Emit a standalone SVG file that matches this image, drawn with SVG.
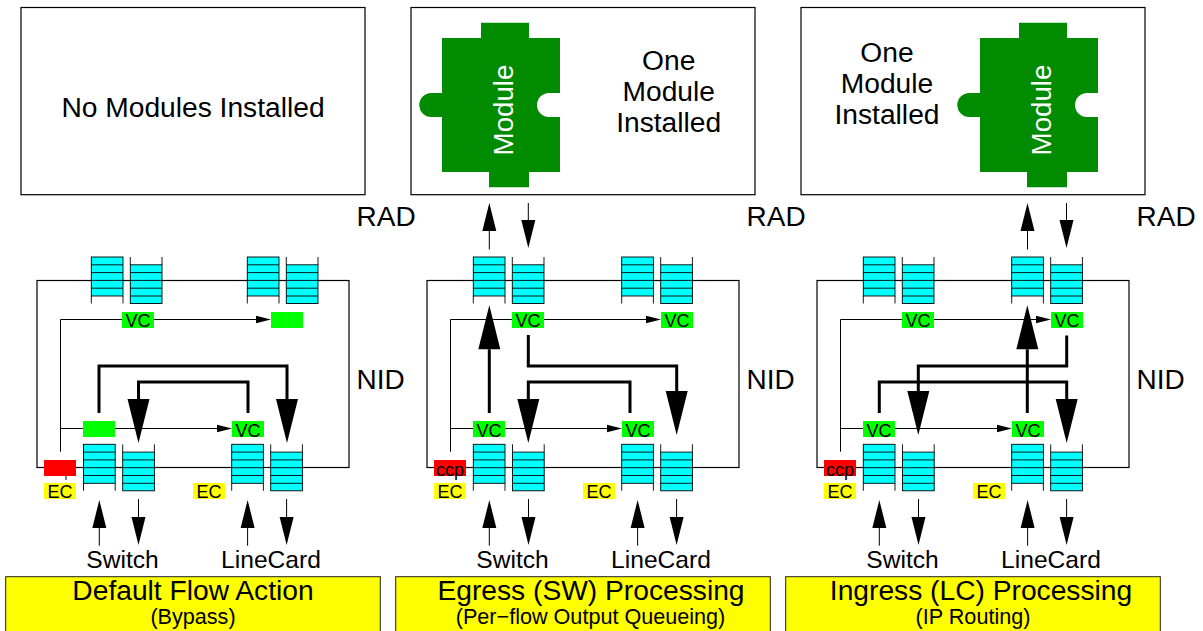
<svg xmlns="http://www.w3.org/2000/svg" width="1203" height="631" viewBox="0 0 1203 631">
<style>
text{font-family:"Liberation Sans",Arial,sans-serif;fill:#000}
.box{fill:#fff;stroke:#000;stroke-width:1.2}
.nid{fill:none;stroke:#000;stroke-width:1.2}
.cap{fill:#ff0;stroke:#222;stroke-width:1}
.t28{font-size:28px}
.t24{font-size:24.6px;text-anchor:middle}
.big{font-size:28.2px;text-anchor:middle}
.sub{font-size:21.6px;text-anchor:middle}
.s{font-size:18px;text-anchor:middle}
.vc{fill:#0f0}
.ec{fill:#ff0}
.red{fill:#f00}
.mod{fill:#008b00}
.modt{font-size:27.7px;text-anchor:middle;fill:#fff}
.thick{fill:none;stroke:#000;stroke-width:3;marker-end:url(#bigHead)}
.med{fill:none;stroke:#000;stroke-width:1;marker-end:url(#medHead)}
.thin{fill:none;stroke:#000;stroke-width:1;marker-end:url(#thinHead)}
.plain{fill:none;stroke:#000;stroke-width:1}
.q{fill:#0ff;stroke:#000;stroke-width:.9}
.ql{fill:none;stroke:#000;stroke-width:.9}
</style>
<defs>
<marker id="bigHead" markerUnits="userSpaceOnUse" markerWidth="46" markerHeight="24" refX="0" refY="11" orient="auto" overflow="visible"><path d="M0 0L44 11L0 22Z" fill="#000"/></marker>
<marker id="medHead" markerUnits="userSpaceOnUse" markerWidth="30" markerHeight="16" refX="0" refY="7" orient="auto" overflow="visible"><path d="M0 0L28 7L0 14Z" fill="#000"/></marker>
<marker id="thinHead" markerUnits="userSpaceOnUse" markerWidth="16" markerHeight="8" refX="0" refY="3.75" orient="auto" overflow="visible"><path d="M0 0L15 3.75L0 7.5Z" fill="#000"/></marker>
<g id="qin"><rect class="q" x="0" y="0" width="31.7" height="39"/><path class="ql" d="M0 7.8H31.7M0 15.6H31.7M0 23.4H31.7M0 31.2H31.7M0 39V46.5M31.7 39V46.5"/></g>
<g id="qout"><rect class="q" x="0" y="7.8" width="31.7" height="38.7"/><path class="ql" d="M0 15.6H31.7M0 23.4H31.7M0 31.2H31.7M0 39H31.7M0 0V7.8M31.7 0V7.8"/></g>
<g id="puzzle"><path class="mod" d="M442 38H481V22.7H529V38H560V172H529V187.3H489V172H442Z"/><path class="mod" d="M443 93H431.3A12 12 0 0 0 431.3 117H443Z"/><path fill="#fff" d="M561 93H549A12 12 0 0 0 549 117H561Z"/></g>
</defs>

<g id="rad1"><rect class="box" x="21" y="7.5" width="344" height="187.2"/><text class="big" x="193" y="117">No Modules Installed</text></g>
<g id="rad2"><rect class="box" x="411" y="7.5" width="344" height="187.2"/><text class="big" x="668.7" y="69.5">One</text><text class="big" x="668.7" y="100.7">Module</text><text class="big" x="668.7" y="131.7">Installed</text></g>
<g id="rad3"><rect class="box" x="801" y="7.5" width="344" height="187.2"/><text class="big" x="887" y="61.5">One</text><text class="big" x="887" y="92.7">Module</text><text class="big" x="887" y="123.7">Installed</text></g>
<g id="module2"><use href="#puzzle"/><text class="modt" transform="translate(512.7 110) rotate(-90)">Module</text></g>
<g id="module3"><use href="#puzzle" transform="translate(538 0)"/><text class="modt" transform="translate(1050.7 110) rotate(-90)">Module</text></g>
<g id="radLabels"><text class="t28" x="356.5" y="226">RAD</text><text class="t28" x="746.5" y="226">RAD</text><text class="t28" x="1136.5" y="226">RAD</text></g>
<g id="nidLabels"><text class="t28" x="356.5" y="389.3">NID</text><text class="t28" x="746.5" y="389.3">NID</text><text class="t28" x="1136.5" y="389.3">NID</text></g>

<g id="nid1"><rect class="nid" x="37" y="280.5" width="312" height="187"/></g>
<g id="nid2"><rect class="nid" x="427" y="280.5" width="312" height="187"/></g>
<g id="nid3"><rect class="nid" x="817" y="280.5" width="312" height="187"/></g>

<g id="connectors">
<path class="thin" d="M60.5 451.7V319.5H256"/><path class="thin" d="M60.5 428.5H217"/>
<path class="plain" d="M66 476V480"/>
<path class="thick" d="M99 413V366H287V399"/><path class="thick" d="M248 413V382H138.5V399"/>
<path class="med" d="M99.3 545.7V528"/><path class="med" d="M138.5 499V517"/><path class="med" d="M247.6 545.7V528"/><path class="med" d="M286.6 499V517"/>

<path class="thin" d="M450.5 451.7V319.5H646"/><path class="thin" d="M450.5 428.5H607"/>
<path class="thick" d="M489.3 413V349.3"/><path class="thick" d="M528.3 335V366H676.7V391"/><path class="thick" d="M630 413V382H528.3V399"/>
<path class="med" d="M489.3 249.5V231"/><path class="med" d="M528.3 203V220"/>
<path class="med" d="M489.3 545.7V528"/><path class="med" d="M528.5 499V517"/><path class="med" d="M637.6 545.7V528"/><path class="med" d="M676.6 499V517"/>

<path class="thin" d="M840.5 451.7V319.5H1036"/><path class="thin" d="M840.5 428.5H997"/>
<path class="thick" d="M1027.3 413V349.3"/><path class="thick" d="M1066.7 335.5V366H918.3V391"/><path class="thick" d="M879.3 413V382H1066.7V399"/>
<path class="med" d="M1027.5 249.5V231"/><path class="med" d="M1066.5 203V220"/>
<path class="med" d="M879.3 545.7V528"/><path class="med" d="M918.5 499V517"/><path class="med" d="M1027.6 545.7V528"/><path class="med" d="M1066.6 499V517"/>
</g>

<g id="p1-queues">
<use href="#qin" x="91.3" y="257"/><use href="#qout" x="130.3" y="257"/><use href="#qin" x="247.3" y="257"/><use href="#qout" x="286.3" y="257"/>
<use href="#qin" x="83.5" y="444.3"/><use href="#qout" x="122.7" y="444.3"/><use href="#qin" x="231.7" y="444.3"/><use href="#qout" x="270.7" y="444.3"/>
</g>
<g id="p2-queues">
<use href="#qin" x="473.3" y="257"/><use href="#qout" x="512.3" y="257"/><use href="#qin" x="621.7" y="257"/><use href="#qout" x="660.7" y="257"/>
<use href="#qin" x="473.3" y="444.3"/><use href="#qout" x="512.5" y="444.3"/><use href="#qin" x="621.7" y="444.3"/><use href="#qout" x="660.7" y="444.3"/>
</g>
<g id="p3-queues">
<use href="#qin" x="863.3" y="257"/><use href="#qout" x="902.3" y="257"/><use href="#qin" x="1011.7" y="257"/><use href="#qout" x="1050.7" y="257"/>
<use href="#qin" x="863.3" y="444.3"/><use href="#qout" x="902.5" y="444.3"/><use href="#qin" x="1011.7" y="444.3"/><use href="#qout" x="1050.7" y="444.3"/>
</g>

<g id="p1-vc1"><rect class="vc" x="122" y="312" width="32" height="16"/><text class="s" x="138" y="326.6">VC</text></g>
<g id="p1-vc2"><rect class="vc" x="271" y="312" width="32" height="16"/></g>
<g id="p1-vc3"><rect class="vc" x="83" y="421" width="32" height="16"/></g>
<g id="p1-vc4"><rect class="vc" x="232" y="421" width="32" height="16"/><text class="s" x="248" y="436.5">VC</text></g>
<g id="p1-red"><rect class="red" x="44" y="460" width="32" height="16"/></g>
<g id="p1-ec1"><rect class="ec" x="44" y="483" width="32" height="16"/><text class="s" x="60" y="498.3">EC</text></g>
<g id="p1-ec2"><rect class="ec" x="193" y="483" width="32" height="16"/><text class="s" x="209" y="498.3">EC</text></g>

<g id="p2-vc1"><rect class="vc" x="512" y="312" width="32" height="16"/><text class="s" x="528" y="326.6">VC</text></g>
<g id="p2-vc2"><rect class="vc" x="661" y="312" width="32" height="16"/><text class="s" x="677" y="326.6">VC</text></g>
<g id="p2-vc3"><rect class="vc" x="473" y="421" width="32" height="16"/><text class="s" x="489" y="436.5">VC</text></g>
<g id="p2-vc4"><rect class="vc" x="622" y="421" width="32" height="16"/><text class="s" x="638" y="436.5">VC</text></g>
<g id="p2-red"><rect class="red" x="434" y="460" width="32" height="16"/><text class="s" x="450" y="475.7">ccp</text></g>
<g id="p2-ec1"><rect class="ec" x="434" y="483" width="32" height="16"/><text class="s" x="450" y="498.3">EC</text></g>
<g id="p2-ec2"><rect class="ec" x="583" y="483" width="32" height="16"/><text class="s" x="599" y="498.3">EC</text></g>

<g id="p3-vc1"><rect class="vc" x="902" y="312" width="32" height="16"/><text class="s" x="918" y="326.6">VC</text></g>
<g id="p3-vc2"><rect class="vc" x="1051" y="312" width="32" height="16"/><text class="s" x="1067" y="326.6">VC</text></g>
<g id="p3-vc3"><rect class="vc" x="863" y="421" width="32" height="16"/><text class="s" x="879" y="436.5">VC</text></g>
<g id="p3-vc4"><rect class="vc" x="1012" y="421" width="32" height="16"/><text class="s" x="1028" y="436.5">VC</text></g>
<g id="p3-red"><rect class="red" x="824" y="460" width="32" height="16"/><text class="s" x="840" y="475.7">ccp</text></g>
<g id="p3-ec1"><rect class="ec" x="824" y="483" width="32" height="16"/><text class="s" x="840" y="498.3">EC</text></g>
<g id="p3-ec2"><rect class="ec" x="973" y="483" width="32" height="16"/><text class="s" x="989" y="498.3">EC</text></g>

<g id="portLabels">
<text class="t24" x="122.5" y="568.3">Switch</text><text class="t24" x="271" y="568.3">LineCard</text>
<text class="t24" x="512.5" y="568.3">Switch</text><text class="t24" x="661" y="568.3">LineCard</text>
<text class="t24" x="902.5" y="568.3">Switch</text><text class="t24" x="1051" y="568.3">LineCard</text>
</g>

<g id="caption1"><rect class="cap" x="5.7" y="576.7" width="374.6" height="60"/><text class="big" x="193" y="600">Default Flow Action</text><text class="sub" x="193" y="623.5">(Bypass)</text></g>
<g id="caption2"><rect class="cap" x="395.7" y="576.7" width="374.6" height="60"/><text class="big" x="591" y="600">Egress (SW) Processing</text><text class="sub" x="590.5" y="623.5">(Per−flow Output Queueing)</text></g>
<g id="caption3"><rect class="cap" x="785.7" y="576.7" width="374.6" height="60"/><text class="big" x="981" y="600">Ingress (LC) Processing</text><text class="sub" x="973" y="623.5">(IP Routing)</text></g>
</svg>
